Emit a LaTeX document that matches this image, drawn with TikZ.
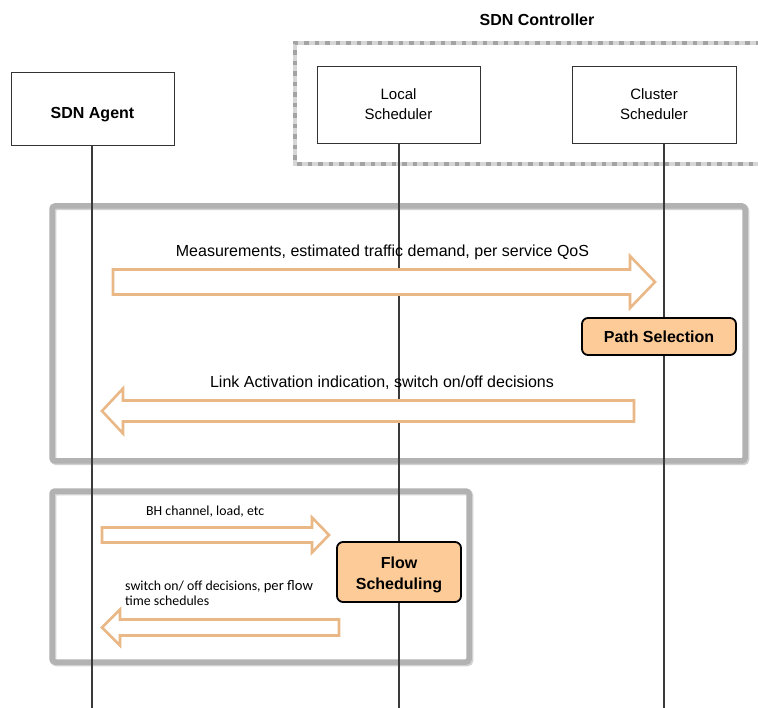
\documentclass[tikz,border=0pt]{standalone}
\usepackage{fontspec}
\setmainfont{Liberation Sans}
\newfontfamily\calfont{Carlito}
\usetikzlibrary{positioning}

\definecolor{msgorange}{HTML}{EAB887}
\definecolor{procfill}{HTML}{FDCB97}
\definecolor{framegray}{HTML}{B2B2B2}
\definecolor{lifegray}{HTML}{3A3A3A}

\tikzset{
  actor/.style={draw=black!80, line width=0.9pt, fill=white, inner sep=0pt, align=center},
  lifeline/.style={draw=lifegray, line width=1.1pt},
  phase/.style={draw=framegray, line width=5.5pt, rounded corners=3pt},
  phaseshadow/.style={draw=black!18, line width=5.5pt, rounded corners=3pt},
  msgarrow/.style={draw=msgorange, line width=2.6pt, fill=white, line join=miter},
  process/.style={draw=black, line width=1.8pt, rounded corners=6pt, fill=procfill,
                  inner sep=0pt, align=center, font=\fontsize{16}{21}\selectfont\bfseries},
  msglabel/.style={font=\fontsize{16}{19}\selectfont, inner sep=0pt},
  smalllabel/.style={font=\calfont\fontsize{13.8}{15}\selectfont, inner sep=0pt, align=left}
}

% block arrow: #1 tail x, #2 head-base x, #3 tip x, #4 centre y, #5 half body, #6 half head
\newcommand\blockarrow[6]{%
  \draw[msgarrow] (#1,#4-#5) -- (#2,#4-#5) -- (#2,#4-#6) -- (#3,#4)
     -- (#2,#4+#6) -- (#2,#4+#5) -- (#1,#4+#5) -- cycle;}

\begin{document}
\begin{tikzpicture}[x=1pt,y=-1pt]
\useasboundingbox (0,0) rectangle (758,708);

% controller group
\draw[draw=black!16, line width=4.5pt] (760,43) -- (295,43) -- (295,164) -- (760,164);
\draw[draw=black!36, line width=4.5pt, dash pattern=on 4.5pt off 6pt] (760,43) -- (295,43) -- (295,164) -- (760,164);
\node[font=\fontsize{16}{19}\selectfont\bfseries, inner sep=0pt] (ctrl) at (537,20) {SDN Controller};

% actors
\node[actor, minimum width=163pt, minimum height=73pt] (agent) at (92.5,108.5) {};
\node[font=\fontsize{16}{19}\selectfont\bfseries, inner sep=0pt] (agentname) at (92.5,115) {SDN Agent};
\node[actor, minimum width=163pt, minimum height=77pt, font=\fontsize{15}{20}\selectfont]
  (local) at (398.5,104.5) {Local\\Scheduler};
\node[actor, minimum width=164pt, minimum height=77pt, font=\fontsize{15}{20}\selectfont]
  (cluster) at (654,104.5) {Cluster\\Scheduler};

% phase frames
\draw[phaseshadow] (53.5,207.5) rectangle (746.5,462.5);
\draw[phase] (52,206) rectangle (745,461);
\draw[phaseshadow] (53.5,492.5) rectangle (470.5,663.5);
\draw[phase] (52,491) rectangle (469,662);

% lifelines
\coordinate (agentend) at (92,708);
\coordinate (localend) at (399,708);
\coordinate (clusterend) at (664,708);
\draw[lifeline] (agent.south -| agentend) -- (agentend);
\draw[lifeline] (local.south -| localend) -- (localend);
\draw[lifeline] (cluster.south -| clusterend) -- (clusterend);

% network-wide path selection
\node[msglabel] (m1) at (382.5,252) {Measurements, estimated traffic demand, per service QoS};
\blockarrow{113}{630}{655}{282}{12.5}{26}
\node[process, minimum width=154pt, minimum height=37pt] (path) at (659,336.5) {Path Selection};
\node[msglabel] (m2) at (382,383) {Link Activation indication, switch on/off decisions};
\blockarrow{634}{123}{102}{411}{10.5}{22.5}

% local flow scheduling
\node[smalllabel, anchor=west] (m3) at (146,512) {BH channel, load, etc};
\blockarrow{102}{312}{329}{535}{7.5}{17.5}
\node[process, minimum width=124pt, minimum height=60pt] (flow) at (399,572) {};
\node[font=\fontsize{16}{21}\selectfont\bfseries, align=center, inner sep=0pt] (flowname)
  at (399,575) {Flow\\Scheduling};
\node[smalllabel, anchor=north west] (m4) at (125,580)
  {switch on/ off decisions, {\fontsize{14.6}{15}\selectfont per flow}\\time schedules};
\blockarrow{339}{120}{102}{627.5}{8}{18}
\end{tikzpicture}
\end{document}
